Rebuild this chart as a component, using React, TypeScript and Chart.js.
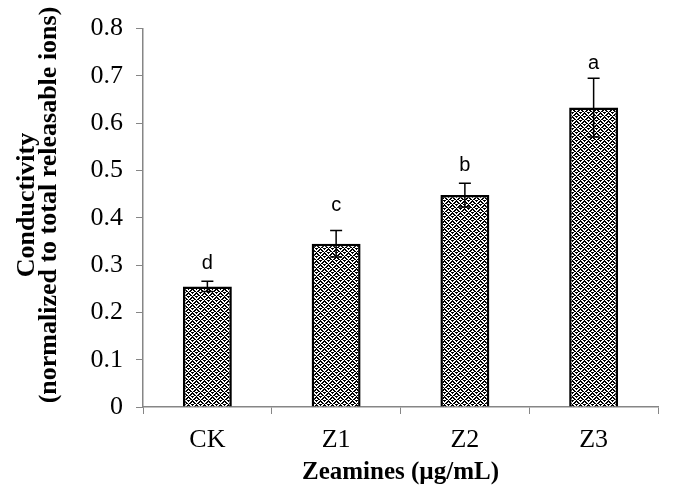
import React, { useEffect, useRef } from 'react';
import { Chart, registerables } from 'chart.js';
Chart.register(...registerables);

const categories = ['CK', 'Z1', 'Z2', 'Z3'];
const values = [0.255, 0.345, 0.448, 0.633];
const errors = [0.011, 0.028, 0.025, 0.062];
const letters = ['d', 'c', 'b', 'a'];
const letterLevels = [0.291, 0.414, 0.5, 0.715];
const yMin = 0;
const yMax = 0.8;
const yStep = 0.1;
const xTitle = 'Zeamines (\u00b5g/mL)';
const yTitle = ['Conductivity', '(normalized to total releasable ions)'];

function makePattern(): CanvasPattern | string {
  const tile = document.createElement('canvas');
  tile.width = 8;
  tile.height = 8;
  const c = tile.getContext('2d');
  if (!c) return '#777';
  c.fillStyle = '#ffffff';
  c.fillRect(0, 0, 8, 8);
  c.fillStyle = '#000000';
  for (let y = 0; y < 8; y++) {
    for (let x = 0; x < 8; x++) {
      const blockRow = Math.floor(y / 4);
      const blockCol = Math.floor(x / 4);
      const dirA = (blockRow + blockCol) % 2 === 0;
      const m = dirA ? (((y - x) % 4) + 4) % 4 : (x + y) % 4;
      if (m === 0 || m === 1) c.fillRect(x, y, 1, 1);
    }
  }
  return c.createPattern(tile, 'repeat') || '#777';
}

const serif = '"Liberation Serif", "Times New Roman", serif';

const errorPlugin = {
  id: 'errLetters',
  afterDatasetsDraw(chart: any) {
    const ctx = chart.ctx;
    const meta = chart.getDatasetMeta(0);
    const yScale = chart.scales.y;
    ctx.save();
    ctx.strokeStyle = '#000';
    ctx.lineWidth = 1.5;
    meta.data.forEach((bar: any, i: number) => {
      const x = bar.x;
      const top = yScale.getPixelForValue(values[i] + errors[i]);
      const bot = yScale.getPixelForValue(values[i] - errors[i]);
      const cap = 6;
      ctx.beginPath();
      ctx.moveTo(x, top);
      ctx.lineTo(x, bot);
      ctx.moveTo(x - cap, top);
      ctx.lineTo(x + cap, top);
      ctx.moveTo(x - cap, bot);
      ctx.lineTo(x + cap, bot);
      ctx.stroke();
      ctx.fillStyle = '#000';
      ctx.font = '20px "Liberation Sans", Arial, sans-serif';
      ctx.textAlign = 'center';
      ctx.textBaseline = 'alphabetic';
      ctx.fillText(letters[i], x, yScale.getPixelForValue(letterLevels[i]));
    });
    ctx.restore();
  },
  afterDraw(chart: any) {
    const ctx = chart.ctx;
    const cy = 205;
    ctx.save();
    ctx.fillStyle = '#000';
    ctx.font = 'bold 26px ' + serif;
    ctx.textAlign = 'center';
    ctx.textBaseline = 'middle';
    const xs = [27, 49];
    yTitle.forEach((line, i) => {
      ctx.save();
      ctx.translate(xs[i], cy);
      ctx.rotate(-Math.PI / 2);
      ctx.fillText(line, 0, 0);
      ctx.restore();
    });
    ctx.restore();
  },
};

export default function App() {
  const ref = useRef<HTMLCanvasElement>(null);
  useEffect(() => {
    if (!ref.current) return;
    const pattern = makePattern();
    const axisColor = '#868686';
    const chart = new Chart(ref.current, {
      type: 'bar',
      data: {
        labels: categories,
        datasets: [
          {
            data: values,
            backgroundColor: pattern as any,
            borderColor: '#000',
            borderWidth: 2.5,
            categoryPercentage: 1,
            barPercentage: 0.38,
          },
        ],
      },
      options: {
        responsive: false,
        animation: false,
        layout: { padding: { top: 20, right: 17, left: 0, bottom: 0 } },
        plugins: { legend: { display: false }, tooltip: { enabled: false } },
        scales: {
          x: {
            grid: {
              display: true,
              drawOnChartArea: false,
              drawTicks: true,
              tickLength: 7,
              color: axisColor,
              offset: true,
            },
            border: { display: true, color: axisColor, width: 1.5 },
            ticks: {
              color: '#000',
              padding: 11,
              font: { family: serif, size: 26 },
            },
            title: {
              display: true,
              text: xTitle,
              color: '#000',
              padding: { top: 0, bottom: 1 },
              font: { family: serif, size: 25, weight: 'bold' },
            },
            afterFit: (s: any) => {
              s.height = 82;
            },
          },
          y: {
            min: yMin,
            max: yMax,
            grid: {
              display: true,
              drawOnChartArea: false,
              drawTicks: true,
              tickLength: 7,
              color: axisColor,
            },
            border: { display: true, color: axisColor, width: 1.5 },
            ticks: {
              stepSize: yStep,
              color: '#000',
              padding: 13,
              font: { family: serif, size: 26 },
              callback: (v: any) => String(Math.round(Number(v) * 10) / 10),
            },
            title: { display: false },
            afterFit: (s: any) => {
              s.width = 143;
            },
          },
        },
      },
      plugins: [errorPlugin],
    });
    return () => chart.destroy();
  }, []);
  return (
    <div style={{ position: 'fixed', left: 0, top: 0, width: 675, height: 489, background: '#fff' }}>
      <canvas ref={ref} width={675} height={489} style={{ display: 'block' }} />
    </div>
  );
}
